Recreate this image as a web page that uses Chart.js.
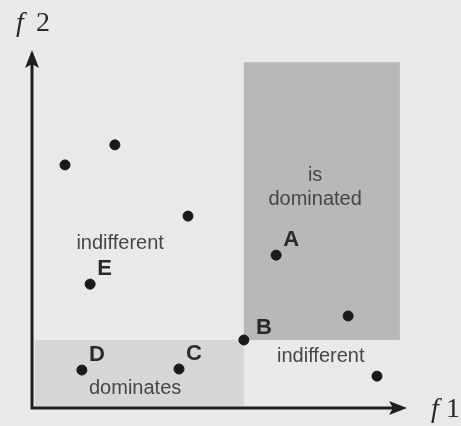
<!DOCTYPE html>
<html>
<head>
<meta charset="utf-8">
<script src="https://cdn.jsdelivr.net/npm/chart.js@4/dist/chart.umd.min.js"></script>
<style>
  html, body { margin: 0; padding: 0; background: #e9e9e9; }
  #wrap { width: 461px; height: 426px; }
</style>
</head>
<body>
<div id="wrap"><canvas id="mycanvas" width="461" height="426"></canvas></div>
<script>
// solutions in objective space (f1, f2)
var f1 = [0.88, 2.21, 4.16, 6.51, 1.55, 8.43, 5.65, 1.33, 3.92, 9.20];
var f2 = [6.79, 7.35, 5.36, 4.27, 3.46, 2.57, 1.90, 1.06, 1.09, 0.89];
var names = ['', '', '', 'A', 'E', '', 'B', 'D', 'C', ''];

// regions relative to B
var regionNames = ['is dominated', 'dominates'];
var regionF1 = [[5.65, 9.81], [0.08, 5.65]];
var regionF2 = [[1.90, 9.66], [0.06, 1.90]];
var regionText = ['is\ndominated', 'indifferent', 'indifferent', 'dominates'];
var regionTextF1 = [7.55, 2.35, 7.7, 2.75];
var regionTextF2 = [6.17, 4.6, 1.45, 0.55];

var punkty = [];
for (var i = 0; i < f1.length; i++) punkty.push({x: f1[i], y: f2[i]});

var tlo = {
  id: 'tlo',
  beforeDraw: function(chart) {
    var c = chart.ctx;
    c.save();
    c.fillStyle = '#e9e9e9';
    c.fillRect(0, 0, chart.width, chart.height);
    c.restore();
  },
  beforeDatasetsDraw: function(chart) {
    var c = chart.ctx, sx = chart.scales.x, sy = chart.scales.y;
    var kolory = ['#b8b8b8', '#d6d6d6'];
    c.save();
    for (var i = 0; i < regionNames.length; i++) {
      var x0 = sx.getPixelForValue(regionF1[i][0]), x1 = sx.getPixelForValue(regionF1[i][1]);
      var y0 = sy.getPixelForValue(regionF2[i][1]), y1 = sy.getPixelForValue(regionF2[i][0]);
      c.fillStyle = kolory[i];
      c.fillRect(x0, y0, x1 - x0, y1 - y0);
    }
    c.restore();
  },
  afterDraw: function(chart) {
    var c = chart.ctx, a = chart.chartArea, sx = chart.scales.x, sy = chart.scales.y;
    c.save();
    // axes
    c.strokeStyle = '#1e1e1e';
    c.fillStyle = '#1e1e1e';
    c.lineWidth = 3;
    c.beginPath();
    c.moveTo(a.left, a.top + 10);
    c.lineTo(a.left, a.bottom);
    c.lineTo(a.right - 10, a.bottom);
    c.stroke();
    c.beginPath();
    c.moveTo(a.left, a.top);
    c.lineTo(a.left - 7, a.top + 18);
    c.lineTo(a.left, a.top + 14);
    c.lineTo(a.left + 7, a.top + 18);
    c.closePath();
    c.fill();
    c.beginPath();
    c.moveTo(a.right, a.bottom);
    c.lineTo(a.right - 18, a.bottom - 7);
    c.lineTo(a.right - 14, a.bottom);
    c.lineTo(a.right - 18, a.bottom + 7);
    c.closePath();
    c.fill();

    // axis titles
    c.fillStyle = '#2a2a2a';
    c.textBaseline = 'alphabetic';
    c.textAlign = 'left';
    c.font = 'italic 28px "Liberation Serif", serif';
    c.fillText('f', 16, 31);
    c.fillText('f', 431, 417);
    c.font = '28px "Liberation Serif", serif';
    c.fillText('2', 36, 31);
    c.fillText('1', 446, 417);

    // region texts
    c.fillStyle = '#464646';
    c.font = '20px "Liberation Sans", Arial, sans-serif';
    c.textAlign = 'center';
    c.textBaseline = 'middle';
    for (var i = 0; i < regionText.length; i++) {
      var linie = regionText[i].split('\n');
      var px = sx.getPixelForValue(regionTextF1[i]), py = sy.getPixelForValue(regionTextF2[i]);
      for (var j = 0; j < linie.length; j++) {
        c.fillText(linie[j], px, py + (j - (linie.length - 1) / 2) * 24);
      }
    }

    // point names (B sits a little further right/down)
    c.fillStyle = '#2a2a2a';
    c.font = 'bold 22px "Liberation Sans", Arial, sans-serif';
    c.textAlign = 'left';
    c.textBaseline = 'alphabetic';
    for (var k = 0; k < names.length; k++) {
      if (!names[k]) continue;
      var x = sx.getPixelForValue(f1[k]), y = sy.getPixelForValue(f2[k]);
      var dx = names[k] === 'B' ? 12 : 7, dy = names[k] === 'B' ? -6 : -9;
      c.fillText(names[k], x + dx, y + dy);
    }
    c.restore();
  }
};

var ctx = document.getElementById('mycanvas');
var wykres = new Chart(ctx, {
  type: 'scatter',
  data: {
    datasets: [{
      label: 'rozwiazania',
      data: punkty,
      backgroundColor: '#1a1a1a',
      borderColor: '#1a1a1a',
      pointRadius: 5,
      pointHoverRadius: 5
    }]
  },
  options: {
    responsive: false,
    animation: false,
    layout: { padding: { left: 32, top: 50, right: 54, bottom: 18 } },
    plugins: { legend: { display: false }, tooltip: { enabled: false } },
    scales: {
      x: { type: 'linear', min: 0, max: 10, display: false },
      y: { type: 'linear', min: 0, max: 10, display: false }
    }
  },
  plugins: [tlo]
});
</script>
</body>
</html>
